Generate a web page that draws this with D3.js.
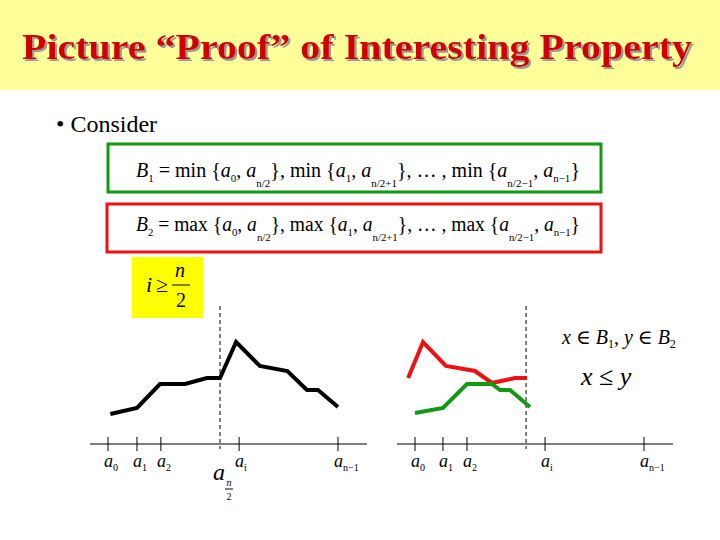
<!DOCTYPE html>
<html>
<head>
<meta charset="utf-8" />
<script src="https://d3js.org/d3.v7.min.js"></script>
<style>
  body { margin: 0; background: #fff; }
  svg, svg text { font-family: "Liberation Serif", "Times New Roman", "DejaVu Serif", serif; }
</style>
</head>
<body>
<svg id="slide" width="720" height="540"></svg>
<script>
// ---- data ----
var tickLabels = ["a0", "a1", "a2", "an/2", "ai", "an-1"];
var tickPosLeft = [0, 1.26, 2.3, 4.87, 5.7, 10];
var leftX = [0.1, 1.26, 2.26, 3.35, 4.3, 4.87, 5.57, 6.6, 7.8, 8.65, 9.13, 10];
var leftY = [30, 36, 60, 60, 66, 66, 102, 78, 73, 54, 54, 37];
var tickPosRight = [0, 1.22, 2.27, 4.85, 5.68, 10];
var redX = [-0.3, 0.35, 1.35, 2.62, 3.36, 4.37, 4.89];
var redY = [66, 102, 78, 73, 61, 66, 66];
var greenX = [0, 1.22, 2.27, 3.36, 3.71, 4.15, 5.02];
var greenY = [31, 36, 60, 60, 54, 54, 37];

var svg = d3.select("#slide");

var defs = svg.append("defs");
var f = defs.append("filter").attr("id", "sh");
f.append("feDropShadow").attr("dx", 2).attr("dy", 2).attr("stdDeviation", 0.5).attr("flood-color", "#999");

// title band
svg.append("rect").attr("width", 720).attr("height", 90).attr("fill", "#ffff99");
svg.append("text").attr("x", 22).attr("y", 59)
  .attr("font-size", 35).attr("font-weight", "bold").attr("fill", "#d00000")
  .attr("filter", "url(#sh)").attr("textLength", 670).attr("lengthAdjust", "spacingAndGlyphs")
  .text("Picture “Proof” of Interesting Property");

svg.append("text").attr("x", 56).attr("y", 132).attr("font-size", 24).text("• Consider");

// formula boxes
svg.append("rect").attr("x", 108).attr("y", 144).attr("width", 493).attr("height", 48)
  .attr("fill", "none").attr("stroke", "#119911").attr("stroke-width", 3);
svg.append("rect").attr("x", 107).attr("y", 204).attr("width", 494).attr("height", 48)
  .attr("fill", "none").attr("stroke", "#ee1111").attr("stroke-width", 3);

function formula(y, fn, B) {
  var t = svg.append("text").attr("x", 136).attr("y", y).attr("font-size", 20)
    .attr("textLength", 444).attr("lengthAdjust", "spacingAndGlyphs");
  function it(s) { t.append("tspan").attr("font-style", "italic").text(s); }
  function sub(s, dy) { t.append("tspan").attr("font-size", 11).attr("dy", dy).text(s); }
  it("B"); sub(B, 5); t.append("tspan").attr("dy", -5).text(" = " + fn + " {");
  it("a"); sub("0", 5); t.append("tspan").attr("dy", -5).text(", ");
  it("a"); sub("n/2", 10); t.append("tspan").attr("dy", -10).text("}, " + fn + " {");
  it("a"); sub("1", 5); t.append("tspan").attr("dy", -5).text(", ");
  it("a"); sub("n/2+1", 10); t.append("tspan").attr("dy", -10).text("}, … , " + fn + " {");
  it("a"); sub("n/2−1", 10); t.append("tspan").attr("dy", -10).text(", ");
  it("a"); sub("n−1", 5); t.append("tspan").attr("dy", -5).text("}");
}
formula(177, "min", "1");
formula(231, "max", "2");

// yellow box
svg.append("rect").attr("x", 132).attr("y", 257).attr("width", 71).attr("height", 61).attr("fill", "#ffff00");
svg.append("text").attr("x", 146).attr("y", 292).attr("font-size", 22).attr("font-style", "italic").text("i");
svg.append("text").attr("x", 156).attr("y", 292).attr("font-size", 22).text("≥");
svg.append("text").attr("x", 180).attr("y", 277).attr("font-size", 20).attr("font-style", "italic").attr("text-anchor", "middle").text("n");
svg.append("line").attr("x1", 172).attr("x2", 190).attr("y1", 285).attr("y2", 285).attr("stroke", "#000");
svg.append("text").attr("x", 181).attr("y", 307).attr("font-size", 20).attr("text-anchor", "middle").text("2");

var y = d3.scaleLinear().domain([0, 120]).range([444, 324]);

function panel(x0, x1, tickPos, axisFrom, axisTo, lines, halfLabel) {
  var x = d3.scaleLinear().domain([0, 10]).range([x0, x1]);
  var g = svg.append("g").attr("transform", "translate(0,444)");
  g.append("line").attr("x1", axisFrom).attr("x2", axisTo).attr("stroke", "#000");
  tickPos.forEach(function (p, i) {
    if (i == 3) return;
    g.append("line").attr("x1", x(p)).attr("x2", x(p)).attr("y1", -7).attr("y2", 7).attr("stroke", "#000");
  });
  svg.append("line").attr("x1", x(tickPos[3])).attr("x2", x(tickPos[3]))
    .attr("y1", 306).attr("y2", 449).attr("stroke", "#000").attr("stroke-dasharray", "4,3");
  var subs = ["0", "1", "2", null, "i", "n−1"];
  subs.forEach(function (s, i) {
    if (s === null) return;
    var t = svg.append("text").attr("x", x(tickPos[i]) - 4).attr("y", 467)
      .attr("font-size", 18).attr("font-style", "italic").text("a");
    t.append("tspan").attr("font-size", 10).attr("dy", 4).attr("font-style", "normal").text(s);
  });
  if (halfLabel) {
    var hx = x(tickPos[3]);
    svg.append("text").attr("x", hx - 7).attr("y", 480).attr("font-size", 24).attr("font-style", "italic").text("a");
    svg.append("text").attr("x", hx + 9).attr("y", 486).attr("font-size", 10).attr("font-style", "italic").attr("text-anchor", "middle").text("n");
    svg.append("line").attr("x1", hx + 5).attr("x2", hx + 13).attr("y1", 489).attr("y2", 489).attr("stroke", "#000");
    svg.append("text").attr("x", hx + 9).attr("y", 500).attr("font-size", 10).attr("text-anchor", "middle").text("2");
  }
  var line = d3.line().x(function (d) { return x(d[0]); }).y(function (d) { return y(d[1]); });
  lines.forEach(function (l) {
    svg.append("path").attr("d", line(d3.zip(l.xs, l.ys))).attr("fill", "none")
      .attr("stroke", l.color).attr("stroke-width", 4);
  });
}

panel(108, 338, tickPosLeft, 90, 367, [{ xs: leftX, ys: leftY, color: "#000" }], true);
panel(415, 644, tickPosRight, 397, 673, [
  { xs: redX, ys: redY, color: "#ee1111" },
  { xs: greenX, ys: greenY, color: "#119911" }
], false);

// annotations
var a = svg.append("text").attr("x", 562).attr("y", 344).attr("font-size", 20);
a.append("tspan").attr("font-style", "italic").text("x");
a.append("tspan").text(" ∈ ");
a.append("tspan").attr("font-style", "italic").text("B");
a.append("tspan").attr("font-size", 12).attr("dy", 4).text("1");
a.append("tspan").attr("dy", -4).text(", ");
a.append("tspan").attr("font-style", "italic").text("y");
a.append("tspan").text(" ∈ ");
a.append("tspan").attr("font-style", "italic").text("B");
a.append("tspan").attr("font-size", 12).attr("dy", 4).text("2");
var b = svg.append("text").attr("x", 581).attr("y", 385).attr("font-size", 26);
b.append("tspan").attr("font-style", "italic").text("x");
b.append("tspan").text(" ≤ ");
b.append("tspan").attr("font-style", "italic").text("y");
</script>
</body>
</html>
